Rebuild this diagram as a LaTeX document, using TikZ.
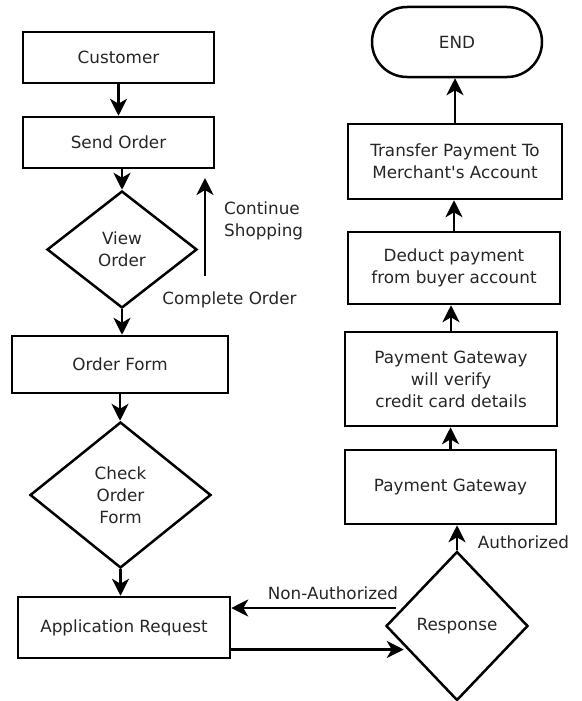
\documentclass[tikz,border=0pt]{standalone}
\usepackage{fontspec}
\setmainfont{DejaVu Sans}
\usetikzlibrary{shapes.geometric,shapes.misc,arrows.meta}

\begin{document}
\begin{tikzpicture}[
    x=1pt, y=-1pt,
    >={Stealth[length=17pt,width=17pt,inset=5pt]},
    font=\fontsize{16.8}{22}\selectfont,
    % Styles
    flow_box/.style={rectangle, draw, line width=2.5pt, text=black!85, align=center, inner sep=0pt},
    flow_choice/.style={diamond, draw, line width=2.5pt, text=black!85, align=center, inner sep=0pt},
    flow_end/.style={rounded rectangle, draw, line width=2.5pt, text=black!85, inner sep=0pt},
    flow_arrow/.style={->, line width=2.5pt},
    flow_label/.style={text=black!85, align=left, inner sep=0pt}
]
    \useasboundingbox (0,0) rectangle (581,701);

    % ==========================================
    % 1. ORDER SIDE (left column)
    % ==========================================
    \node[flow_box, minimum width=191, minimum height=51] (customer) at (118.5,57.5) {Customer};
    \node[flow_box, minimum width=191, minimum height=51] (sendorder) at (118.5,142.5) {Send Order};
    \node[flow_choice, minimum width=150, minimum height=117] (vieworder) at (122,249.5) {View\\Order};
    \node[flow_box, minimum width=216, minimum height=57] (orderform) at (120,364.5) {Order Form};
    \node[flow_choice, minimum width=181, minimum height=146] (checkform) at (120.5,495) {Check\\Order\\Form};
    \node[flow_box, minimum width=212, minimum height=61] (appreq) at (124,627.5) {Application Request};

    % ==========================================
    % 2. PAYMENT SIDE (right column)
    % ==========================================
    \node[flow_choice, minimum width=142, minimum height=149] (response) at (457,626) {Response};
    \node[flow_box, minimum width=211, minimum height=74] (gateway) at (450.5,487) {Payment Gateway};
    \node[flow_box, minimum width=212, minimum height=94] (verify) at (451,379) {Payment Gateway\\will verify\\credit card details};
    \node[flow_box, minimum width=212, minimum height=72] (deduct) at (454,268) {Deduct payment\\from buyer account};
    \node[flow_box, minimum width=214, minimum height=75] (transfer) at (455,161.5) {Transfer Payment To\\Merchant\textquotesingle s Account};
    \node[flow_end, minimum width=170, minimum height=70] (endnode) at (457,42) {END};

    % ==========================================
    % 3. CONNECTORS
    % ==========================================
    \draw[flow_arrow] (customer) -- (sendorder);
    \draw[flow_arrow] (sendorder.south -| vieworder) -- (vieworder.north);
    \draw[flow_arrow] (vieworder.south) -- (vieworder.south |- orderform.north);
    \draw[flow_arrow] (orderform.south) -- (orderform.south |- checkform.north);
    \draw[flow_arrow] (checkform.south) -- (checkform.south |- appreq.north);

    % Continue shopping loop
    \coordinate (contStart) at (205,276);
    \coordinate (contEnd) at (205,178);
    \draw[flow_arrow] (contStart) -- (contEnd);

    % Request / response
    \coordinate (naStart) at ([xshift=11pt,yshift=18pt]response.west);
    \draw[flow_arrow] (naStart) -- (naStart -| appreq.east);
    \coordinate (reqStart) at ([yshift=-22pt]appreq.east);
    \coordinate (reqEnd) at ([xshift=19pt,yshift=-23pt]response.west);
    \draw[flow_arrow] (reqStart) -- (reqStart -| reqEnd);

    \draw[flow_arrow] (response.north) -- (response.north |- gateway.south);
    \draw[flow_arrow] (gateway.north) -- (gateway.north |- verify.south);
    \draw[flow_arrow] (verify.north) -- (verify.north |- deduct.south);
    \draw[flow_arrow] (deduct.north) -- (deduct.north |- transfer.south);
    \draw[flow_arrow] (transfer.north) -- (transfer.north |- endnode.south);

    % ==========================================
    % 4. LABELS
    % ==========================================
    \node[flow_label, anchor=west] (contlabel) at (224,221) {Continue\\Shopping};
    \node[flow_label] (completelabel) at (229.5,300) {Complete Order};
    \node[flow_label] (nalabel) at (333,593) {Non-Authorized};
    \node[flow_label] (authlabel) at (523.5,542) {Authorized};

\end{tikzpicture}
\end{document}
